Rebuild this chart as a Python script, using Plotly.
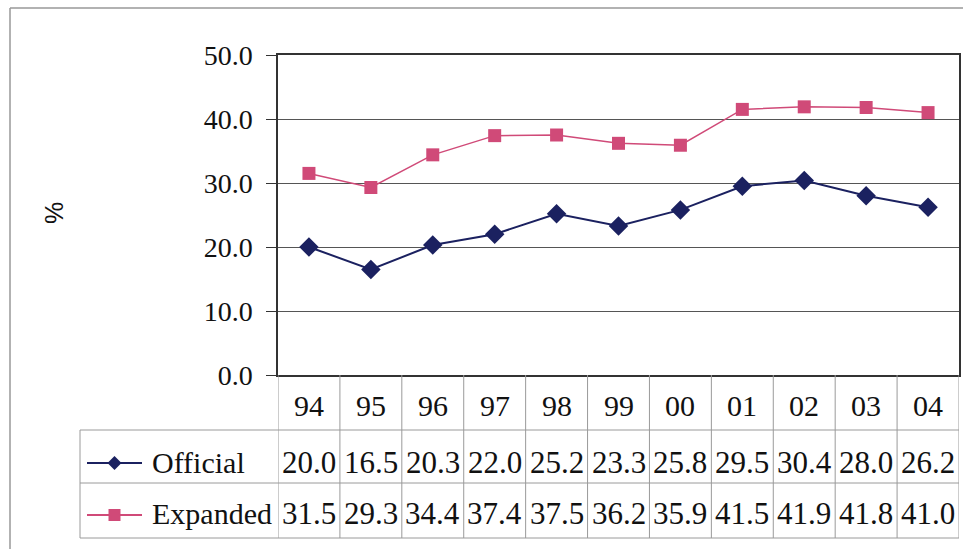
import plotly.graph_objects as go

years = ["94", "95", "96", "97", "98", "99", "00", "01", "02", "03", "04"]
official = [20.0, 16.5, 20.3, 22.0, 25.2, 23.3, 25.8, 29.5, 30.4, 28.0, 26.2]
expanded = [31.5, 29.3, 34.4, 37.4, 37.5, 36.2, 35.9, 41.5, 41.9, 41.8, 41.0]
y_ticks = [0, 10, 20, 30, 40, 50]

W, H = 964, 549
def px(x):
    return x / W
def py(y):
    return 1 - y / H

NAVY = "#1b2160"
PINK = "#d04a78"
GRID = "#555555"
TBL = "#9a9a9a"
SERIF = "Liberation Serif, Times New Roman, serif"
TXT = "#111111"

x_idx = list(range(len(years)))

fig = go.Figure()
fig.add_trace(go.Scatter(x=x_idx, y=official, mode="lines+markers", name="Official",
                         line=dict(color=NAVY, width=2),
                         marker=dict(symbol="diamond", size=15, color=NAVY)))
fig.add_trace(go.Scatter(x=x_idx, y=expanded, mode="lines+markers", name="Expanded",
                         line=dict(color=PINK, width=1.5),
                         marker=dict(symbol="square", size=13, color=PINK)))

L, R, T, B = 278, 959, 55, 375
fig.update_layout(
    width=W, height=H, margin=dict(l=0, r=0, t=0, b=0, pad=0),
    paper_bgcolor="white", plot_bgcolor="white", showlegend=False,
    xaxis=dict(domain=[px(L), px(R)], range=[-0.5, 10.5], showticklabels=False,
               showgrid=False, zeroline=False, showline=True, linecolor="#333",
               linewidth=1.5, mirror=True, ticks="", automargin=False),
    yaxis=dict(domain=[py(B), py(T)], range=[0, 50], tickvals=y_ticks,
               ticktext=[f"{v:.1f}" for v in y_ticks],
               tickfont=dict(family=SERIF, size=28, color=TXT),
               showgrid=True, gridcolor=GRID, gridwidth=1, zeroline=False,
               showline=True, linecolor="#333", linewidth=1.5, mirror=True,
               ticks="outside", ticklen=10, tickcolor="#333", automargin=False,
               ticklabelstandoff=8),
)

shapes = []
# outer border (left, top)
shapes.append(dict(type="line", xref="paper", yref="paper", x0=px(10), x1=px(10), y0=py(8), y1=py(549), line=dict(color="#999", width=1.5)))
shapes.append(dict(type="line", xref="paper", yref="paper", x0=px(10), x1=px(963), y0=py(8), y1=py(8), line=dict(color="#999", width=1.5)))

# table grid
rows_y = [430, 483, 538]
for yy in rows_y:
    shapes.append(dict(type="line", xref="paper", yref="paper", x0=px(80), x1=px(R), y0=py(yy), y1=py(yy), line=dict(color=TBL, width=1)))
shapes.append(dict(type="line", xref="paper", yref="paper", x0=px(80), x1=px(80), y0=py(430), y1=py(538), line=dict(color=TBL, width=1)))
for i in range(len(years) + 1):
    shapes.append(dict(type="line", xref="x", yref="paper", x0=i - 0.5, x1=i - 0.5, y0=py(B), y1=py(538), line=dict(color=TBL, width=1)))

# legend keys
MX = 114.5
for yc, col in [(463, NAVY), (515, PINK)]:
    shapes.append(dict(type="line", xref="paper", yref="paper", x0=px(87), x1=px(142), y0=py(yc), y1=py(yc), line=dict(color=col, width=2)))
d = 7
shapes.append(dict(type="path", xref="paper", yref="paper",
                   path=f"M {px(MX-d)} {py(463)} L {px(MX)} {py(463-d)} L {px(MX+d)} {py(463)} L {px(MX)} {py(463+d)} Z",
                   fillcolor=NAVY, line=dict(color=NAVY, width=0)))
s = 6
shapes.append(dict(type="rect", xref="paper", yref="paper", x0=px(MX-s), x1=px(MX+s), y0=py(515+s), y1=py(515-s),
                   fillcolor=PINK, line=dict(color=PINK, width=0)))
fig.update_layout(shapes=shapes)

annotations = []
for i, yr in enumerate(years):
    annotations.append(dict(x=i, y=py(405), xref="x", yref="paper", text=yr, showarrow=False,
                            font=dict(family=SERIF, size=30, color=TXT), xanchor="center", yanchor="middle"))
    annotations.append(dict(x=i, y=py(462), xref="x", yref="paper", text=f"{official[i]:.1f}", showarrow=False,
                            font=dict(family=SERIF, size=31, color=TXT), xanchor="center", yanchor="middle"))
    annotations.append(dict(x=i, y=py(513), xref="x", yref="paper", text=f"{expanded[i]:.1f}", showarrow=False,
                            font=dict(family=SERIF, size=31, color=TXT), xanchor="center", yanchor="middle"))
annotations.append(dict(x=px(150), y=py(462), xref="paper", yref="paper", text="Official", showarrow=False,
                        font=dict(family=SERIF, size=30, color=TXT), xanchor="left", yanchor="middle"))
annotations.append(dict(x=px(150), y=py(513), xref="paper", yref="paper", text="Expanded", showarrow=False,
                        font=dict(family=SERIF, size=30, color=TXT), xanchor="left", yanchor="middle"))
annotations.append(dict(x=px(54), y=py(213), xref="paper", yref="paper", text="%", showarrow=False, textangle=-90,
                        font=dict(family="Liberation Sans, Arial, sans-serif", size=25, color=TXT),
                        xanchor="center", yanchor="middle"))
fig.update_layout(annotations=annotations)

fig.write_html("out.html", config={"displayModeBar": False},
               post_script="document.body.style.margin='0';document.body.style.overflow='hidden';")
